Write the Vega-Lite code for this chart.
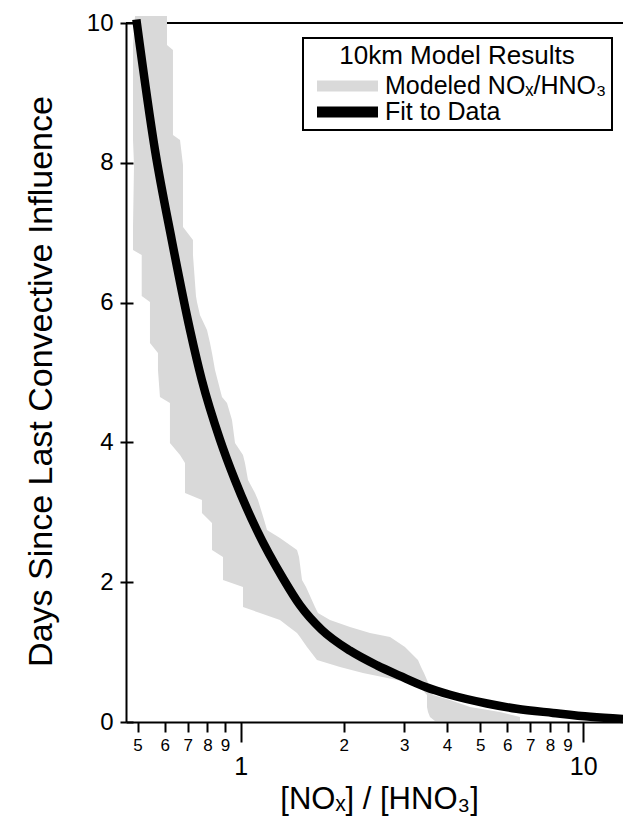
{
  "$schema": "https://vega.github.io/schema/vega-lite/v6.json",
  "width": 497,
  "height": 699,
  "autosize": {"type": "none"},
  "padding": {"left": 126, "top": 23, "right": 0, "bottom": 100},
  "background": "white",
  "config": {
    "view": {"stroke": null},
    "font": "Liberation Sans",
    "legend": {"strokeWidth": 2}
  },
  "datasets": {
    "top": [{"y": 10}],
    "band": [
      {"y": 10.1, "lo": 0.4915, "hi": 0.6093},
      {"y": 9.685, "lo": 0.4849, "hi": 0.6093},
      {"y": 9.614, "lo": 0.4849, "hi": 0.6343},
      {"y": 8.398, "lo": 0.4849, "hi": 0.6343},
      {"y": 8.326, "lo": 0.4849, "hi": 0.6651},
      {"y": 7.969, "lo": 0.4882, "hi": 0.6786},
      {"y": 7.082, "lo": 0.4849, "hi": 0.6786},
      {"y": 6.896, "lo": 0.4849, "hi": 0.7256},
      {"y": 6.753, "lo": 0.4849, "hi": 0.7256},
      {"y": 6.681, "lo": 0.5141, "hi": 0.7256},
      {"y": 6.094, "lo": 0.5141, "hi": 0.7404},
      {"y": 6.009, "lo": 0.5435, "hi": 0.7454},
      {"y": 5.823, "lo": 0.5435, "hi": 0.7605},
      {"y": 5.608, "lo": 0.5435, "hi": 0.7973},
      {"y": 5.422, "lo": 0.5435, "hi": 0.8136},
      {"y": 5.279, "lo": 0.5735, "hi": 0.8246},
      {"y": 5.036, "lo": 0.5735, "hi": 0.8414},
      {"y": 4.649, "lo": 0.5812, "hi": 0.8819},
      {"y": 4.564, "lo": 0.6215, "hi": 0.9121},
      {"y": 4.32, "lo": 0.6215, "hi": 0.9432},
      {"y": 3.991, "lo": 0.6215, "hi": 0.9625},
      {"y": 3.82, "lo": 0.6651, "hi": 1.0156},
      {"y": 3.705, "lo": 0.6878, "hi": 1.0292},
      {"y": 3.462, "lo": 0.6878, "hi": 1.0503},
      {"y": 3.276, "lo": 0.6878, "hi": 1.1008},
      {"y": 3.176, "lo": 0.7707, "hi": 1.1233},
      {"y": 2.99, "lo": 0.7707, "hi": 1.1539},
      {"y": 2.847, "lo": 0.8246, "hi": 1.1774},
      {"y": 2.747, "lo": 0.8246, "hi": 1.1934},
      {"y": 2.632, "lo": 0.8246, "hi": 1.3021},
      {"y": 2.461, "lo": 0.8246, "hi": 1.4601},
      {"y": 2.361, "lo": 0.8878, "hi": 1.48},
      {"y": 2.031, "lo": 0.8878, "hi": 1.5101},
      {"y": 1.931, "lo": 1.0156, "hi": 1.5511},
      {"y": 1.645, "lo": 1.0156, "hi": 1.6478},
      {"y": 1.559, "lo": 1.1385, "hi": 1.6813},
      {"y": 1.459, "lo": 1.3021, "hi": 1.8225},
      {"y": 1.359, "lo": 1.384, "hi": 2.0845},
      {"y": 1.273, "lo": 1.4601, "hi": 2.385},
      {"y": 1.216, "lo": 1.49, "hi": 2.7289},
      {"y": 1.073, "lo": 1.5615, "hi": 3.017},
      {"y": 0.887, "lo": 1.6701, "hi": 3.2925},
      {"y": 0.787, "lo": 1.9495, "hi": 3.36},
      {"y": 0.701, "lo": 2.275, "hi": 3.428},
      {"y": 0.601, "lo": 2.86, "hi": 3.498},
      {"y": 0.501, "lo": 3.337, "hi": 3.569},
      {"y": 0.386, "lo": 3.498, "hi": 3.642},
      {"y": 0.315, "lo": 3.498, "hi": 4.083},
      {"y": 0.215, "lo": 3.498, "hi": 4.67},
      {"y": 0.143, "lo": 3.522, "hi": 5.712},
      {"y": 0.0715, "lo": 3.569, "hi": 6.535},
      {"y": 0.014, "lo": 3.69, "hi": 6.535}
    ],
    "fit": [
      {"x": 0.496, "y": 10.05},
      {"x": 0.5622, "y": 8.18},
      {"x": 0.6289, "y": 6.9},
      {"x": 0.7112, "y": 5.61},
      {"x": 0.7694, "y": 4.9},
      {"x": 0.87, "y": 4.04},
      {"x": 0.9624, "y": 3.46},
      {"x": 1.1135, "y": 2.75},
      {"x": 1.331, "y": 2.05},
      {"x": 1.49, "y": 1.67},
      {"x": 1.723, "y": 1.32},
      {"x": 2.085, "y": 1.02},
      {"x": 2.5, "y": 0.81},
      {"x": 2.917, "y": 0.66},
      {"x": 3.451, "y": 0.505},
      {"x": 4.083, "y": 0.39},
      {"x": 5.236, "y": 0.265},
      {"x": 6.39, "y": 0.19},
      {"x": 8.157, "y": 0.13},
      {"x": 10.5, "y": 0.074},
      {"x": 13.06, "y": 0.043}
    ]
  },
  "resolve": {"scale": {"y": "independent"}},
  "layer": [
    {
      "data": {"name": "top"},
      "mark": {"type": "rule", "color": "black", "strokeWidth": 2},
      "encoding": {
        "y": {"field": "y", "type": "quantitative", "scale": {"domain": [0, 10], "nice": false}, "axis": null}
      }
    },
    {
      "data": {"name": "band"},
      "mark": {"type": "area", "orient": "horizontal", "opacity": 1},
      "encoding": {
        "y": {
          "field": "y", "type": "quantitative",
          "scale": {"domain": [0, 10], "nice": false},
          "axis": {
            "values": [0, 2, 4, 6, 8, 10],
            "title": "Days Since Last Convective Influence",
            "titleFont": "Liberation Sans", "titleFontSize": 34, "titleFontWeight": "normal", "titleColor": "black",
            "titleAngle": -90, "titleBaseline": "bottom", "titleAlign": "center",
            "titleX": -68, "titleY": 358,
            "domainColor": "black", "domainWidth": 2,
            "tickColor": "black", "tickWidth": 2, "tickSize": 6,
            "labelFont": "Liberation Sans", "labelFontSize": 24, "labelColor": "black", "labelPadding": 7,
            "grid": false
          }
        },
        "x": {
          "field": "lo", "type": "quantitative",
          "scale": {"type": "log", "domain": [0.4626, 13.06], "nice": false},
          "axis": {
            "values": [0.5, 0.6, 0.7, 0.8, 0.9, 1, 2, 3, 4, 5, 6, 7, 8, 9, 10],
            "labelExpr": "datum.value < 0.95 ? '' + round(datum.value * 10) : '' + round(datum.value)",
            "labelFontSize": {"condition": {"test": "datum.value == 1 || datum.value == 10", "value": 25}, "value": 17},
            "tickSize": {"condition": {"test": "datum.value == 1 || datum.value == 10", "value": 20}, "value": 10},
            "labelPadding": {"condition": {"test": "datum.value == 1 || datum.value == 10", "value": 12}, "value": 5},
            "labelBaseline": "top", "labelFlush": false, "labelOverlap": false, "labelBound": false,
            "labelFont": "Liberation Sans", "labelColor": "black",
            "title": "[NOₓ] / [HNO₃]",
            "titleFont": "Liberation Sans", "titleFontSize": 31, "titleFontWeight": "normal", "titleColor": "black",
            "titleX": 253, "titleY": 62, "titleBaseline": "top", "titleAlign": "center",
            "domainColor": "black", "domainWidth": 2,
            "tickColor": "black", "tickWidth": 2,
            "grid": false
          }
        },
        "x2": {"field": "hi"},
        "color": {
          "datum": "Modeled NOₓ/HNO₃", "type": "nominal",
          "scale": {"domain": ["Modeled NOₓ/HNO₃", "Fit to Data"], "range": ["#d9d9d9", "#000000"]},
          "legend": {
            "title": "10km Model Results",
            "orient": "none", "legendX": 177, "legendY": 15,
            "direction": "vertical",
            "titleFont": "Liberation Sans", "titleFontSize": 26, "titleFontWeight": "normal", "titleColor": "black",
            "titleAnchor": "middle", "titleAlign": "center", "titlePadding": 4, "titleLimit": 600,
            "labelFont": "Liberation Sans", "labelFontSize": 25, "labelColor": "black", "labelOffset": 46, "labelLimit": 600,
            "symbolType": "M-0.65,0H5.45", "symbolSize": 400, "symbolStrokeWidth": 11,
            "clipHeight": 26,
            "strokeColor": "black", "fillColor": "white", "padding": 5, "rowPadding": 0,
            "encode": {
              "symbols": {
                "update": {
                  "shape": {"value": "M-0.65,0H5.45"},
                  "stroke": {"scale": "color", "field": "value"},
                  "fill": {"value": "transparent"},
                  "strokeWidth": {"value": 11},
                  "opacity": {"value": 1}
                }
              }
            }
          }
        }
      }
    },
    {
      "data": {"name": "fit"},
      "mark": {"type": "line", "strokeWidth": 8.5, "interpolate": "monotone"},
      "encoding": {
        "x": {
          "field": "x", "type": "quantitative",
          "scale": {"type": "log", "domain": [0.4626, 13.06], "nice": false}
        },
        "y": {
          "field": "y", "type": "quantitative",
          "scale": {"domain": [0, 10], "nice": false},
          "axis": {
            "values": [0, 2, 4, 6, 8, 10],
            "orient": "left", "title": null, "labels": false, "domain": false,
            "tickSize": -7, "tickColor": "black", "tickWidth": 2, "grid": false
          }
        },
        "color": {"datum": "Fit to Data", "type": "nominal"}
      }
    }
  ]
}
